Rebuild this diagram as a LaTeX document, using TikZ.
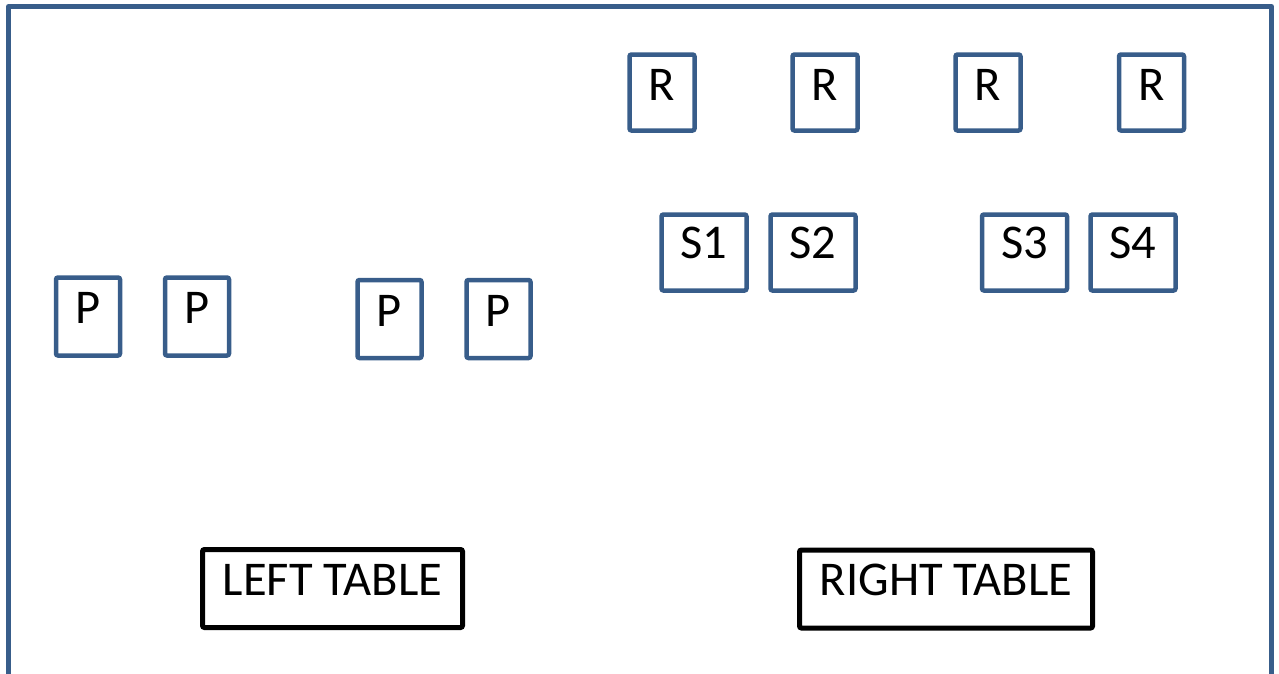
\documentclass[tikz,border=0pt]{standalone}
\usepackage{fontspec}
\setmainfont{Carlito}
\definecolor{frameblue}{HTML}{385D8A}
\begin{document}
\begin{tikzpicture}[x=1pt,y=-1pt,
  bluebox/.style={draw=frameblue,line width=4.5pt,rounded corners=2pt,inner sep=0pt,outer sep=0pt,minimum width=#1,minimum height=77pt},
  bluebox/.default=65pt,
  tablebox/.style={draw=black,line width=5pt,rounded corners=2pt,inner sep=0pt,outer sep=0pt,minimum height=78pt},
  lbl/.style={anchor=base,inner sep=0pt,font=\fontsize{48.5}{58}\selectfont}]
\useasboundingbox (0,0) rectangle (1279,673);
% outer frame (open at bottom)
\coordinate (fbl) at (8.5,680);
\coordinate (ftl) at (8.5,6.5);
\coordinate (ftr) at (1271.5,6.5);
\coordinate (fbr) at (1271.5,680);
\draw[frameblue,line width=5pt,line join=round] (fbl) -- (ftl) -- (ftr) -- (fbr);
% R boxes
\foreach \n/\x in {r1/662,r2/825,r3/988,r4/1151.5}{
  \node[bluebox,minimum height=76pt] (\n) at (\x,92.5) {};
  \node[lbl] (\n t) at ([yshift=-46pt]\n.north) {R};
}
% S boxes
\foreach \n/\x/\t in {s1/704/S1,s2/813/S2,s3/1024.5/S3,s4/1133/S4}{
  \node[bluebox=85pt,minimum height=76pt] (\n) at (\x,252.5) {};
  \node[lbl] (\n t) at ([yshift=-44pt]\n.north) {\t};
}
% P boxes
\foreach \n/\x/\y in {p1/88/316.5,p2/197/316.5,p3/389.5/319,p4/498.5/319}{
  \node[bluebox=64pt,minimum height=78pt] (\n) at (\x,\y) {};
  \node[lbl] (\n t) at ([yshift=-46pt]\n.north) {P};
}
% tables
\node[tablebox,minimum width=260pt] (lt) at (332.5,588.5) {};
\node[lbl] (ltt) at ([yshift=-45.5pt]lt.north) {LEFT TABLE};
\node[tablebox,minimum width=293pt] (rt) at (946,589) {};
\node[lbl] (rtt) at ([yshift=-45.5pt]rt.north) {RIGHT TABLE};
\end{tikzpicture}
\end{document}
